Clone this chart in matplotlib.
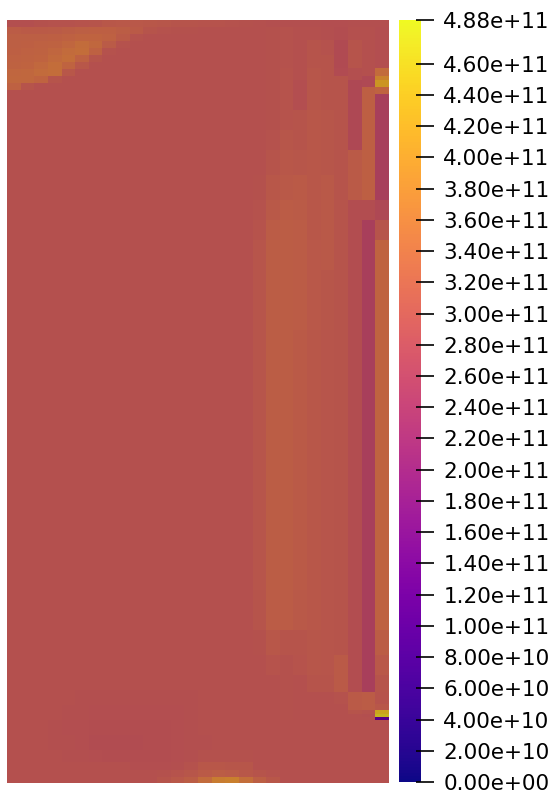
import numpy as np
import matplotlib.pyplot as plt
from matplotlib.colors import ListedColormap, Normalize
from matplotlib.cm import ScalarMappable
from matplotlib.transforms import blended_transform_factory

# field values in units of 1e9, read off the rendered cells
# domain: x in mesh columns (28 across), y in depth from the top (0..763)
base_value = 292

# top-left patch: columns 0-17, rows every 7 units from the top
tl_cols = [0, 18]
tl_rows = [0, 7, 14, 21, 28, 35, 42, 49, 56, 63, 70, 77]
tl_values = [
    [291, 291, 294, 296, 296, 298, 301, 306, 308, 308, 306, 304, 301, 301, 298, 298, 296, 294],
    [316, 311, 311, 314, 318, 321, 324, 324, 318, 311, 301, 296, 294, 294, 292, 292, 292, 292],
    [321, 321, 321, 324, 326, 331, 331, 326, 311, 296, 292, 292, 292, 292, 292, 292, 292, 292],
    [321, 324, 326, 328, 334, 346, 336, 314, 296, 292, 292, 292, 292, 292, 292, 292, 292, 292],
    [324, 326, 328, 334, 344, 348, 326, 296, 292, 292, 292, 292, 292, 292, 292, 292, 292, 292],
    [326, 328, 331, 341, 348, 326, 301, 292, 292, 292, 292, 292, 292, 292, 292, 292, 292, 292],
    [328, 331, 338, 348, 331, 306, 292, 292, 292, 292, 292, 292, 292, 292, 292, 292, 292, 292],
    [334, 336, 344, 348, 306, 292, 292, 292, 292, 292, 292, 292, 292, 292, 292, 292, 292, 292],
    [336, 336, 331, 301, 292, 292, 292, 292, 292, 292, 292, 292, 292, 292, 292, 292, 292, 292],
    [326, 301, 292, 292, 292, 292, 292, 292, 292, 292, 292, 292, 292, 292, 292, 292, 292, 292],
    [292, 292, 292, 292, 292, 292, 292, 292, 292, 292, 292, 292, 292, 292, 292, 292, 292, 292],
]

# right-hand strip: columns 18-27, full height
right_cols = [18, 28]
right_rows = [0, 7, 20, 35, 48, 56, 60, 67, 74, 90, 110, 130, 155, 180, 200, 220, 250,
              310, 400, 500, 570, 610, 635, 655, 672, 684, 690, 694, 697, 700, 750, 757, 763]
right_values = [
    [292, 290, 290, 290, 290, 288, 288, 290, 290, 290],
    [292, 294, 296, 292, 292, 290, 286, 292, 292, 288],
    [292, 294, 296, 292, 301, 296, 281, 301, 292, 288],
    [292, 294, 296, 292, 301, 301, 281, 301, 292, 288],
    [292, 294, 298, 292, 304, 301, 284, 291, 292, 345],
    [292, 294, 298, 292, 304, 301, 301, 291, 278, 385],
    [292, 294, 298, 288, 304, 301, 301, 276, 278, 415],
    [292, 294, 298, 288, 304, 301, 301, 276, 324, 330],
    [292, 294, 298, 288, 304, 301, 301, 276, 324, 256],
    [292, 294, 298, 301, 306, 304, 300, 276, 324, 256],
    [292, 296, 304, 301, 306, 304, 300, 276, 324, 256],
    [292, 301, 306, 304, 306, 304, 300, 311, 324, 256],
    [294, 306, 310, 312, 306, 310, 300, 311, 324, 256],
    [296, 310, 316, 314, 306, 310, 300, 286, 286, 276],
    [298, 316, 318, 316, 306, 310, 300, 286, 258, 301],
    [302, 318, 318, 316, 308, 310, 300, 286, 258, 330],
    [302, 318, 318, 316, 308, 304, 300, 286, 258, 330],
    [302, 318, 318, 312, 306, 302, 300, 286, 258, 330],
    [302, 318, 318, 312, 306, 302, 300, 286, 258, 330],
    [302, 318, 318, 312, 306, 302, 300, 286, 258, 330],
    [300, 316, 316, 310, 306, 302, 300, 286, 258, 328],
    [294, 306, 301, 301, 304, 302, 300, 286, 258, 318],
    [292, 298, 294, 298, 304, 302, 311, 286, 258, 308],
    [292, 292, 294, 292, 301, 301, 311, 286, 258, 301],
    [292, 292, 294, 292, 292, 292, 296, 311, 316, 298],
    [292, 292, 294, 292, 292, 292, 292, 311, 316, 306],
    [292, 292, 294, 292, 292, 292, 292, 301, 296, 440],
    [292, 292, 294, 292, 292, 292, 292, 292, 291, 460],
    [292, 292, 294, 292, 292, 292, 292, 292, 292, 100],
    [292, 292, 292, 292, 292, 292, 292, 292, 292, 292],
    [301, 296, 292, 292, 292, 292, 292, 292, 292, 292],
    [321, 306, 292, 292, 292, 292, 292, 292, 292, 292],
]

# bottom patch: columns 0-17
bottom_cols = [0, 18]
bottom_rows = [670, 685, 700, 715, 730, 742, 750, 757, 763]
bottom_values = [
    [292, 292, 292, 292, 292, 291, 291, 290, 290, 290, 290, 291, 291, 291, 292, 292, 292, 292],
    [292, 292, 292, 292, 291, 290, 289, 289, 288, 288, 288, 289, 289, 291, 292, 292, 292, 292],
    [292, 292, 292, 291, 289, 289, 287, 286, 286, 286, 286, 287, 289, 291, 292, 292, 292, 292],
    [292, 292, 292, 291, 290, 288, 285, 285, 285, 285, 286, 287, 288, 290, 291, 293, 293, 293],
    [292, 292, 292, 292, 291, 290, 289, 287, 287, 287, 286, 286, 288, 291, 294, 294, 294, 294],
    [292, 292, 292, 292, 292, 292, 292, 292, 292, 289, 289, 289, 290, 296, 306, 306, 304, 304],
    [292, 292, 292, 292, 292, 292, 292, 292, 292, 292, 292, 294, 298, 304, 311, 318, 314, 306],
    [293, 293, 293, 293, 293, 293, 293, 293, 293, 293, 293, 301, 308, 318, 345, 375, 380, 350],
]

# colour bar
vmax_e9 = 488
tick_values = [0, 2e10, 4e10, 6e10, 8e10, 1.0e11, 1.2e11, 1.4e11, 1.6e11, 1.8e11, 2.0e11, 2.2e11,
               2.4e11, 2.6e11, 2.8e11, 3.0e11, 3.2e11, 3.4e11, 3.6e11, 3.8e11, 4.0e11, 4.2e11,
               4.4e11, 4.6e11, 4.88e11]

# the surface is lit, so the rendered colours are a shade darker than the bar
plasma = plt.get_cmap("plasma")
lit = plasma(np.linspace(0, 1, 256))
lit[:, :3] *= 0.8
field_cmap = ListedColormap(lit)
norm = Normalize(0, vmax_e9)

fig = plt.figure(figsize=(5.55, 8.05), dpi=100)
ax = fig.add_axes([7 / 555, 22 / 805, 382 / 555, 763 / 805])


def draw_patch(cols, rows, values):
    xs = np.arange(cols[0], cols[1] + 1)
    ax.pcolormesh(xs, rows, np.array(values), cmap=field_cmap, norm=norm,
                  shading="flat", edgecolors="none", antialiased=False)


draw_patch([0, 28], [0, 763], [[base_value] * 28])
draw_patch(tl_cols, tl_rows, tl_values)
draw_patch(right_cols, right_rows, right_values)
draw_patch(bottom_cols, bottom_rows, bottom_values)
ax.set_xlim(0, 28)
ax.set_ylim(763, 0)
ax.axis("off")

cax = fig.add_axes([399 / 555, 23 / 805, 22 / 555, 762 / 805])
sm = ScalarMappable(norm=Normalize(0, vmax_e9 * 1e9), cmap=plasma)
cbar = fig.colorbar(sm, cax=cax, ticks=tick_values, format="%.2e")
cbar.outline.set_visible(False)
cax.tick_params(length=0, pad=16, labelsize=15.5, labelcolor="black")
trans = blended_transform_factory(cax.transAxes, cax.transData)
cax.hlines(tick_values, 0.77, 1.6, colors="black", linewidth=1.2,
           transform=trans, clip_on=False)

fig.savefig("out.png", dpi=100)
